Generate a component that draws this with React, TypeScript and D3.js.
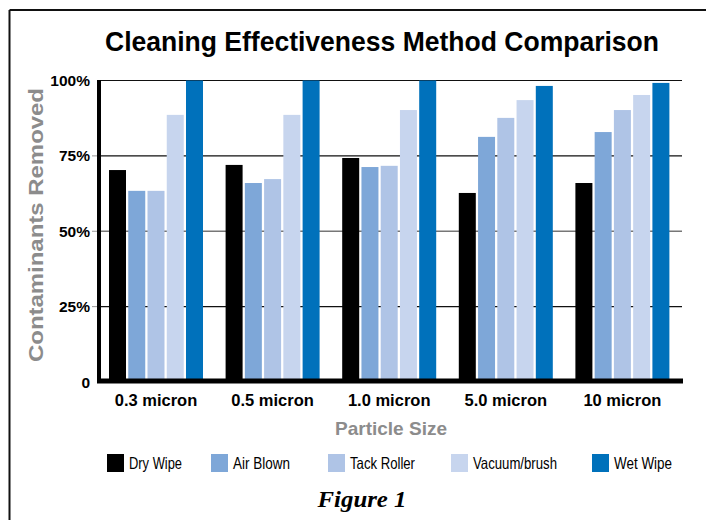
import React from "react";
import * as d3 from "d3";

const categories = ["0.3 micron", "0.5 micron", "1.0 micron", "5.0 micron", "10 micron"];
const seriesNames = ["Dry Wipe", "Air Blown", "Tack Roller", "Vacuum/brush", "Wet Wipe"];
const dryWipe = [70.3, 72, 74.3, 62.7, 66];
const airBlown = [63.4, 66, 71.3, 81.3, 82.9];
const tackRoller = [63.4, 67.3, 71.7, 87.6, 90.2];
const vacuumBrush = [88.6, 88.6, 90.2, 93.5, 95.2];
const wetWipe = [100, 100, 100, 98.2, 99.2];
const yTicks = [0, 25, 50, 75, 100];
const yTickLabels = ["0", "25%", "50%", "75%", "100%"];

const seriesValues = [dryWipe, airBlown, tackRoller, vacuumBrush, wetWipe];
const colors = ["#000000", "#7ea7d8", "#afc4e6", "#c7d5ee", "#0071bb"];

// layout
const W = 706;
const H = 520;
const legendX = [107, 211, 328, 451, 592];
const legendTextW = [53, 57, 65, 84, 58];

export default function App() {
  const x0 = d3.scaleBand<string>().domain(categories).range([98, 681]).padding(0);
  const x1 = d3
    .scaleBand<string>()
    .domain(seriesNames)
    .range([11, 105])
    .paddingInner(0.117)
    .paddingOuter(0);
  const y = d3.scaleLinear().domain([0, 100]).range([382, 80.5]);

  const sans = "'Liberation Sans', Arial, Helvetica, sans-serif";

  return (
    <div style={{ position: "fixed", left: 0, top: 0 }}>
      <svg width={W} height={H} style={{ display: "block", background: "#fff" }}>
        {/* frame */}
        <line x1={9.5} y1={10} x2={W} y2={10} stroke="#111" strokeWidth={2} />
        <line x1={9.5} y1={10} x2={9.5} y2={H} stroke="#111" strokeWidth={2} />

        {/* title */}
        <text
          x={105}
          y={51}
          fontFamily={sans}
          fontWeight="bold"
          fontSize={27}
          textLength={554}
          lengthAdjust="spacingAndGlyphs"
          fill="#000"
        >
          Cleaning Effectiveness Method Comparison
        </text>

        {/* gridlines */}
        {yTicks
          .filter((t) => t > 0)
          .map((t) => (
            <line
              key={"g" + t}
              x1={99}
              x2={682}
              y1={y(t)}
              y2={y(t)}
              stroke={t === 50 ? "#777" : "#111"}
              strokeWidth={t === 50 ? 1.6 : 1.2}
            />
          ))}
        {/* small ticks left of axis */}
        {yTicks
          .filter((t) => t > 0 && t < 100)
          .map((t) => (
            <line key={"t" + t} x1={92} x2={97} y1={y(t)} y2={y(t)} stroke="#999" strokeWidth={1} />
          ))}

        {/* bars */}
        {categories.map((c, ci) => (
          <g key={c} transform={`translate(${x0(c)},0)`}>
            {seriesNames.map((s, si) => {
              const v = seriesValues[si][ci];
              return (
                <rect
                  key={s}
                  x={x1(s)}
                  y={y(v)}
                  width={x1.bandwidth()}
                  height={y(0) - y(v)}
                  fill={colors[si]}
                />
              );
            })}
          </g>
        ))}

        {/* axes */}
        <line x1={99} y1={80} x2={99} y2={383} stroke="#000" strokeWidth={4} />
        <line x1={97} y1={381} x2={683} y2={381} stroke="#000" strokeWidth={5} />

        {/* y tick labels */}
        {yTicks.map((t, i) => (
          <text
            key={"yl" + t}
            x={90}
            y={y(t) + 5.5}
            textAnchor="end"
            fontFamily={sans}
            fontWeight="bold"
            fontSize={15.5}
            fill="#000"
          >
            {yTickLabels[i]}
          </text>
        ))}

        {/* x tick labels */}
        {categories.map((c) => (
          <text
            key={"xl" + c}
            x={(x0(c) as number) + 58}
            y={406}
            textAnchor="middle"
            fontFamily={sans}
            fontWeight="bold"
            fontSize={16.5}
            fill="#000"
          >
            {c}
          </text>
        ))}

        {/* axis titles */}
        <text
          x={391}
          y={435}
          textAnchor="middle"
          fontFamily={sans}
          fontWeight="bold"
          fontSize={19}
          textLength={112}
          lengthAdjust="spacingAndGlyphs"
          fill="#8c8c8c"
        >
          Particle Size
        </text>
        <text
          transform={`translate(43,225) rotate(-90)`}
          textAnchor="middle"
          fontFamily={sans}
          fontWeight="bold"
          fontSize={21}
          textLength={274}
          lengthAdjust="spacingAndGlyphs"
          fill="#8c8c8c"
        >
          Contaminants Removed
        </text>

        {/* legend */}
        {seriesNames.map((s, i) => (
          <g key={"lg" + s}>
            <rect x={legendX[i]} y={454} width={17} height={18} fill={colors[i]} />
            <text
              x={legendX[i] + 22}
              y={468.5}
              fontFamily={sans}
              fontSize={16.5}
              textLength={legendTextW[i]}
              lengthAdjust="spacingAndGlyphs"
              fill="#000"
            >
              {s}
            </text>
          </g>
        ))}

        {/* caption */}
        <text
          x={362}
          y={507}
          textAnchor="middle"
          fontFamily="'Liberation Serif', 'Times New Roman', serif"
          fontWeight="bold"
          fontStyle="italic"
          fontSize={23}
          textLength={89}
          lengthAdjust="spacingAndGlyphs"
          fill="#000"
        >
          Figure 1
        </text>
      </svg>
    </div>
  );
}
